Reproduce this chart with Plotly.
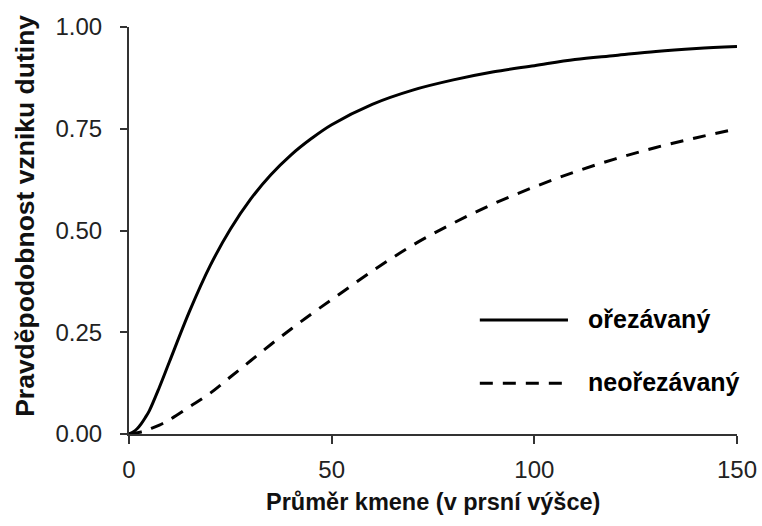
import plotly.graph_objects as go

# Diameter of trunk (x) and probability values
x_vals = [0, 1, 2, 3, 4, 5, 7.5, 10, 15, 20, 25, 30, 35, 40, 45, 50, 60, 70, 80, 90, 100, 110, 120, 130, 140, 150]
p_orezavany = [0.00, 0.005, 0.013, 0.025, 0.04, 0.057, 0.115, 0.178, 0.303, 0.413, 0.503, 0.577, 0.637,
               0.686, 0.726, 0.76, 0.81, 0.845, 0.87, 0.89, 0.905, 0.92, 0.93, 0.94, 0.947, 0.952]
p_neorezavany = [0.00, 0.001, 0.003, 0.005, 0.008, 0.012, 0.022, 0.035, 0.067, 0.10, 0.14, 0.18, 0.22,
                 0.258, 0.295, 0.33, 0.40, 0.464, 0.518, 0.566, 0.607, 0.644, 0.676, 0.704, 0.728, 0.75]

series_names = ["ořezávaný", "neořezávaný"]
x_ticks = [0, 50, 100, 150]
y_ticks = [0, 0.25, 0.5, 0.75, 1.0]
y_tick_labels = ["0.00", "0.25", "0.50", "0.75", "1.00"]
x_title = "Průměr kmene (v prsní výšce)"
y_title = "Pravděpodobnost vzniku dutiny"

FONT = "Liberation Sans, Arial, sans-serif"
DASH = "13px,10px"

fig = go.Figure()
fig.add_trace(go.Scatter(x=x_vals, y=p_orezavany, mode="lines", name=series_names[0],
                         line=dict(color="black", width=3, shape="spline", smoothing=1.0),
                         showlegend=False))
fig.add_trace(go.Scatter(x=x_vals, y=p_neorezavany, mode="lines", name=series_names[1],
                         line=dict(color="black", width=3, dash=DASH, shape="spline",
                                   smoothing=1.0),
                         showlegend=False))

# legend drawn manually (long samples like the original)
legend_y = [0.280, 0.125]
dashes = ["solid", DASH]
for name, ly, d in zip(series_names, legend_y, dashes):
    fig.add_shape(type="line", xref="paper", yref="paper", x0=0.577, x1=0.722, y0=ly, y1=ly,
                  line=dict(color="black", width=3, dash=d))
    fig.add_annotation(text=name, xref="paper", yref="paper", x=0.751, y=ly, xanchor="left",
                       yanchor="middle", showarrow=False, yshift=1,
                       font=dict(family=FONT, size=25, color="black", weight="bold"))

# axis titles as annotations for precise placement
fig.add_annotation(text=x_title, xref="paper", yref="paper", x=0.5, y=0, yshift=-68,
                   xanchor="center", yanchor="middle", showarrow=False,
                   font=dict(family=FONT, size=23.5, color="#111", weight="bold"))
fig.add_annotation(text=y_title, xref="paper", yref="paper", x=0, y=0.536, xshift=-104,
                   xanchor="center", yanchor="middle", showarrow=False, textangle=-90,
                   font=dict(family=FONT, size=26.5, color="#111", weight="bold"))

fig.update_layout(
    width=762, height=526,
    margin=dict(l=129, r=25, t=27, b=92, autoexpand=False),
    plot_bgcolor="white", paper_bgcolor="white",
    font=dict(family=FONT, color="#222"),
)
fig.update_xaxes(range=[0, 150], tickvals=x_ticks, ticks="outside", ticklen=8, tickwidth=1.5,
                 tickcolor="#333", showline=True, linecolor="#333", linewidth=1.5,
                 showgrid=False, zeroline=False, tickfont=dict(size=24, color="#222"),
                 ticklabelstandoff=5, automargin=False)
# pad the y tick labels with no-break spaces so they sit farther from the axis
y_tick_text = [t + "\u00a0\u00a0" for t in y_tick_labels]
fig.update_yaxes(range=[0, 1.0], tickvals=y_ticks, ticktext=y_tick_text, ticks="outside",
                 ticklen=7, tickwidth=1.5, tickcolor="#333", showline=True, linecolor="#333",
                 linewidth=1.5, showgrid=False, zeroline=False,
                 tickfont=dict(size=24, color="#222"), automargin=False)

fig.write_html("out.html", config={"displayModeBar": False},
               post_script="document.body.style.margin='0';document.body.style.overflow='hidden';")
